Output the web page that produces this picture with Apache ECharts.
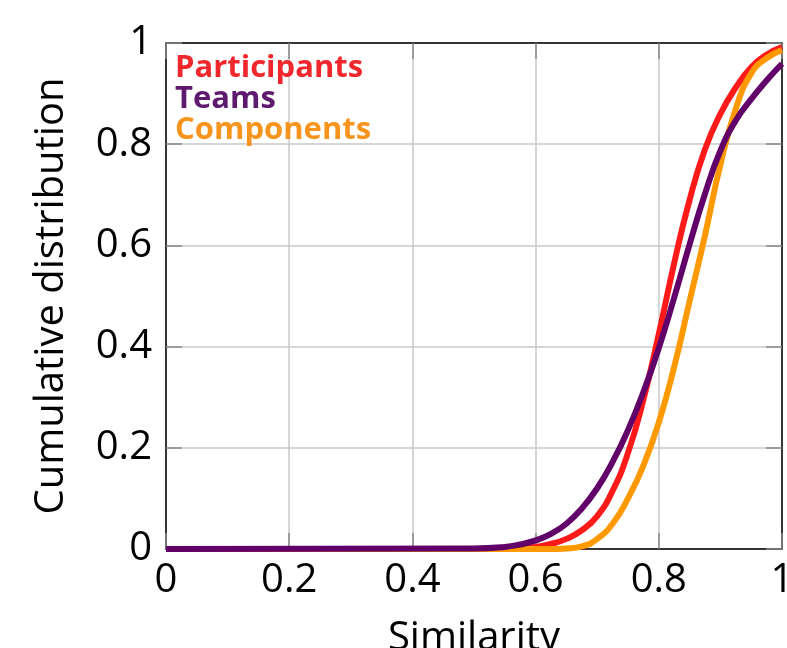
<!DOCTYPE html>
<html>
<head>
<meta charset="utf-8">
<script src="https://cdn.jsdelivr.net/npm/echarts@6/dist/echarts.min.js"></script>
<style>
  html, body { margin: 0; padding: 0; background: #fff; }
  #chart { width: 787px; height: 648px; }
</style>
</head>
<body>
<div id="chart"></div>
<script>
// similarity values (x) shared by all three curves
var similarity = [0, 0.5, 0.55, 0.575, 0.6, 0.625, 0.65, 0.675, 0.7, 0.725, 0.75, 0.775, 0.8, 0.825, 0.85, 0.875, 0.9, 0.925, 0.95, 0.975, 1.0];
var participants = [0, 0, 0.001, 0.002, 0.004, 0.01, 0.02, 0.037, 0.065, 0.115, 0.19, 0.295, 0.425, 0.565, 0.69, 0.79, 0.86, 0.912, 0.952, 0.977, 0.992];
var teams = [0, 0.001, 0.004, 0.009, 0.017, 0.03, 0.05, 0.08, 0.12, 0.172, 0.235, 0.31, 0.397, 0.497, 0.602, 0.702, 0.787, 0.847, 0.889, 0.926, 0.959];
var components = [0, 0, 0, 0, 0, 0, 0.001, 0.005, 0.02, 0.05, 0.10, 0.165, 0.25, 0.36, 0.49, 0.62, 0.76, 0.87, 0.94, 0.97, 0.986];

var seriesNames = ['Participants', 'Teams', 'Components'];
var lineColors = ['#ff1a1a', '#600068', '#ff9900'];
var textColors = ['#f0282d', '#5e1a6e', '#f7941d'];

function pairs(ys) {
  return similarity.map(function (x, i) { return [x, ys[i]]; });
}

var font = 'Open Sans';
var chart = echarts.init(document.getElementById('chart'));

function axisCommon(extra) {
  var a = {
    type: 'value',
    min: 0,
    max: 1,
    interval: 0.2,
    axisLine: { show: true, onZero: false, lineStyle: { color: '#000', width: 1.5 } },
    axisTick: { show: true, inside: true, length: 16, lineStyle: { color: '#888', width: 1.5 } },
    splitLine: { show: false },
    axisLabel: { show: false }
  };
  return Object.assign(a, extra);
}

var labelStyle = {
  show: true,
  color: '#000',
  fontFamily: font,
  fontSize: 40,
  formatter: function (v) { return String(+v.toFixed(1)); }
};

var option = {
  animation: false,
  backgroundColor: '#fff',
  grid: { left: 166, right: 5, top: 43, bottom: 99, containLabel: false, outerBoundsMode: 'none' },
  legend: {
    orient: 'vertical',
    left: 164,
    top: 48,
    itemWidth: 0,
    itemHeight: 0,
    itemGap: 0,
    selectedMode: false,
    data: seriesNames.map(function (n, i) {
      return { name: n, textStyle: { color: textColors[i], fontFamily: font, fontSize: 31, fontWeight: 'bold' } };
    })
  },
  xAxis: [
    axisCommon({
      position: 'bottom',
      name: 'Similarity',
      nameLocation: 'middle',
      nameGap: 70,
      nameTextStyle: { color: '#000', fontFamily: font, fontSize: 40 },
      splitLine: { show: true, lineStyle: { color: '#c8c8c8', width: 1.5 } },
      axisLabel: Object.assign({ margin: 12 }, labelStyle)
    }),
    axisCommon({ position: 'top' })
  ],
  yAxis: [
    axisCommon({
      position: 'left',
      name: 'Cumulative distribution',
      nameLocation: 'middle',
      nameGap: 94,
      nameTextStyle: { color: '#000', fontFamily: font, fontSize: 40 },
      splitLine: { show: true, lineStyle: { color: '#c8c8c8', width: 1.5 } },
      axisLabel: Object.assign({ margin: 14 }, labelStyle)
    }),
    axisCommon({ position: 'right' })
  ],
  series: [
    { name: 'Participants', data: pairs(participants), color: lineColors[0] },
    { name: 'Components', data: pairs(components), color: lineColors[2] },
    { name: 'Teams', data: pairs(teams), color: lineColors[1] }
  ].map(function (s) {
    return Object.assign({
      type: 'line',
      smooth: 0.5,
      showSymbol: false,
      lineStyle: { width: 6 },
      z: 3
    }, s);
  })
};

chart.setOption(option);
</script>
</body>
</html>
